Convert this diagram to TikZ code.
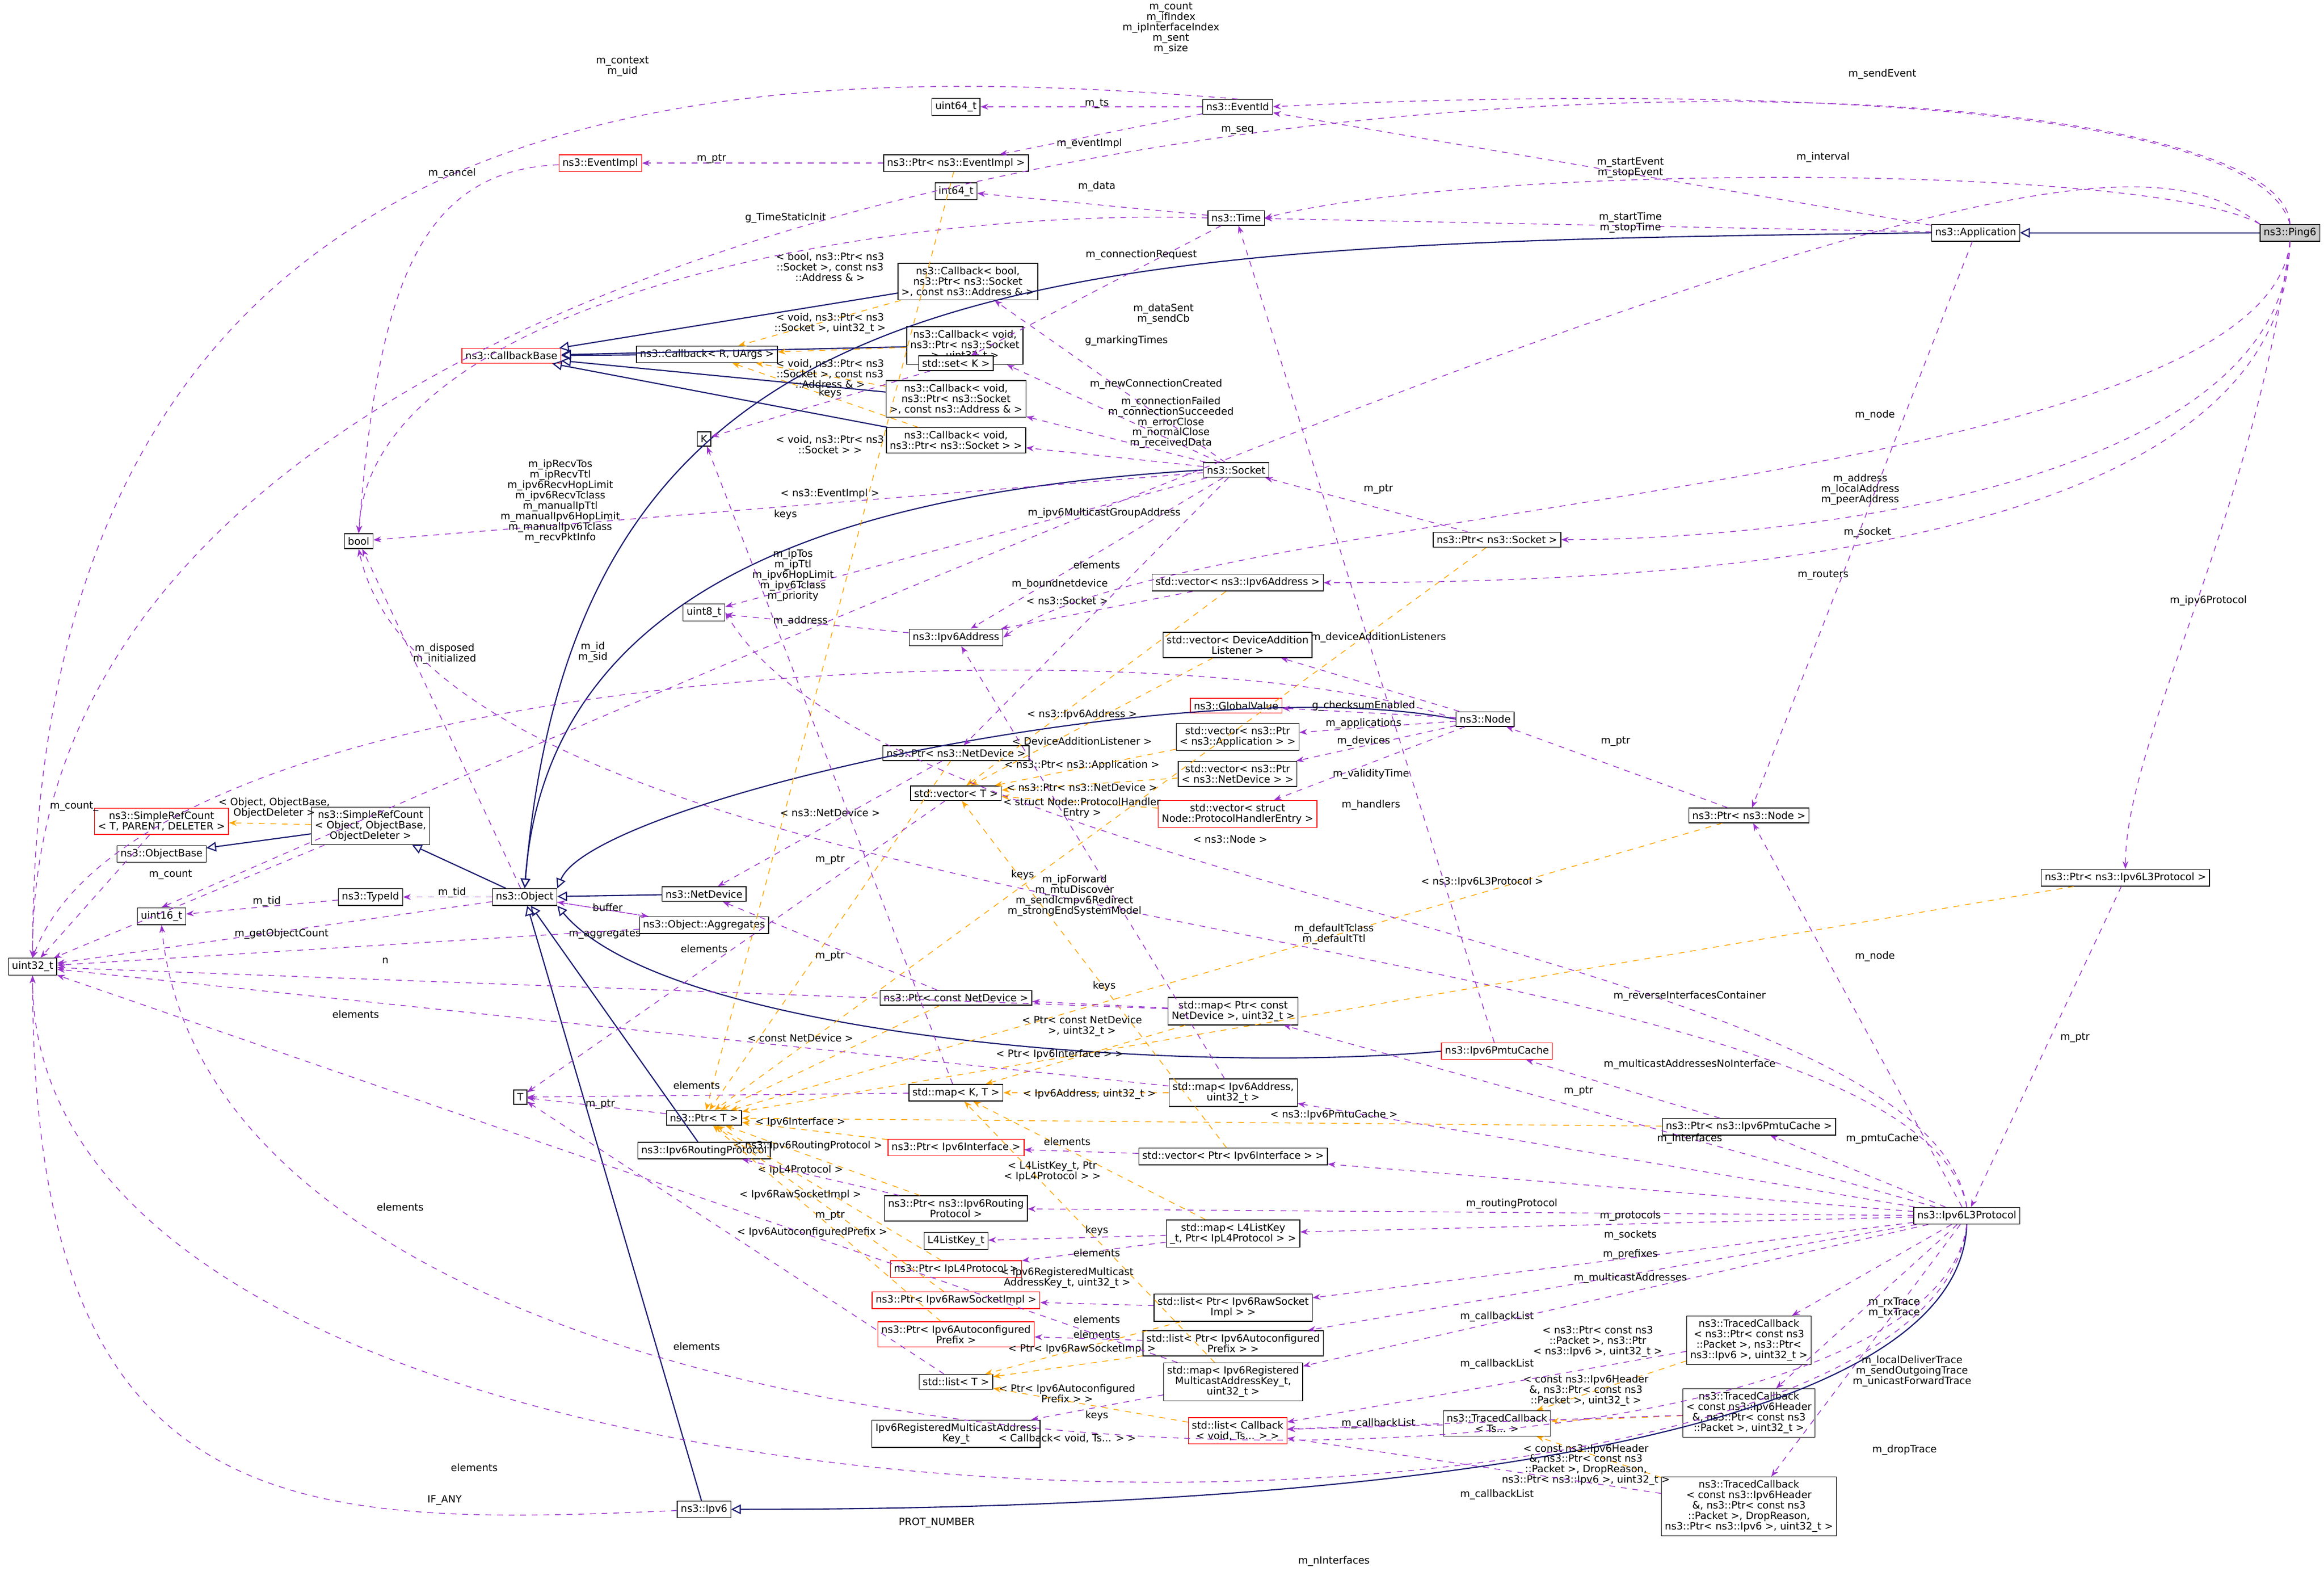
\documentclass[tikz,border=0pt]{standalone}
\usepackage{fontspec}
\setmainfont{DejaVu Sans}
\usetikzlibrary{arrows.meta}
\definecolor{inhblue}{RGB}{25,25,112}
\definecolor{usepurple}{RGB}{154,50,205}
\definecolor{tplorange}{RGB}{255,165,0}
\tikzset{
  cls/.style={draw, fill=white, font=\fontsize{5.2}{5.4}\selectfont, inner sep=1.8pt, align=center},
  redcls/.style={cls, draw=red},
  inh/.style={draw=inhblue, semithick, -{Triangle[open,length=5pt,width=5pt]}},
  use/.style={draw=usepurple, dashed, -{Stealth[length=4pt]}},
  tpl/.style={draw=tplorange, dashed, -{Stealth[length=4pt]}},
  lbl/.style={font=\fontsize{5.2}{5.4}\selectfont, align=center, inner sep=0.5pt}
}
\begin{document}
\begin{tikzpicture}[x=0.02692cm,y=-0.02692cm]
\useasboundingbox (0,0) rectangle (1568,1068);
% classes
\node (ping6) at (1545,157) [cls, fill=gray!40] {ns3::Ping6};
\node (app) at (1333,157) [cls] {ns3::Application};
\node (time) at (834,147) [cls] {ns3::Time};
\node (eventid) at (835,72) [cls] {ns3::EventId};
\node (u64) at (645,72) [cls] {uint64\_t};
\node (ptrevimpl) at (645,110) [cls] {ns3::Ptr< ns3::EventImpl >};
\node (evimpl) at (405,110) [redcls] {ns3::EventImpl};
\node (i64) at (645,129) [cls] {int64\_t};
\node (cbbool) at (653,190) [cls] {ns3::Callback< bool,\\ ns3::Ptr< ns3::Socket\\ >, const ns3::Address \& >};
\node (cbu32) at (651,233) [cls] {ns3::Callback< void,\\ ns3::Ptr< ns3::Socket\\ >, uint32\_t >};
\node (cbru) at (477,239) [cls] {ns3::Callback< R, UArgs >};
\node (cbbase) at (345,240) [redcls] {ns3::CallbackBase};
\node (setk) at (645,245) [cls] {std::set< K >};
\node (cbaddr) at (645,269) [cls] {ns3::Callback< void,\\ ns3::Ptr< ns3::Socket\\ >, const ns3::Address \& >};
\node (kk) at (475,296) [cls] {K};
\node (cbsock) at (645,297) [cls] {ns3::Callback< void,\\ ns3::Ptr< ns3::Socket > >};
\node (socket) at (834,317) [cls] {ns3::Socket};
\node (bool) at (242,365) [cls] {bool};
\node (ptrsock) at (1010,364) [cls] {ns3::Ptr< ns3::Socket >};
\node (vecaddr) at (835,393) [cls] {std::vector< ns3::Ipv6Address >};
\node (u8) at (475,413) [cls] {uint8\_t};
\node (ipv6addr) at (645,430) [cls] {ns3::Ipv6Address};
\node (vecdal) at (835,435) [cls] {std::vector< DeviceAddition\\Listener >};
\node (gval) at (834,476) [redcls] {ns3::GlobalValue};
\node (node) at (1002,485) [cls] {ns3::Node};
\node (vecapp) at (835,497) [cls] {std::vector< ns3::Ptr\\< ns3::Application > >};
\node (ptrnd) at (645,508) [cls] {ns3::Ptr< ns3::NetDevice >};
\node (vecnd) at (835,522) [cls] {std::vector< ns3::Ptr\\< ns3::NetDevice > >};
\node (vect) at (645,535) [cls] {std::vector< T >};
\node (vecphe) at (835,549) [redcls] {std::vector< struct\\Node::ProtocolHandlerEntry >};
\node (ptrnode) at (1180,550) [cls] {ns3::Ptr< ns3::Node >};
\node (srct) at (109,554) [redcls] {ns3::SimpleRefCount\\< T, PARENT, DELETER >};
\node (objbase) at (109,576) [cls] {ns3::ObjectBase};
\node (srcobj) at (250,557) [cls] {ns3::SimpleRefCount\\< Object, ObjectBase,\\ObjectDeleter >};
\node (typeid) at (250,605) [cls] {ns3::TypeId};
\node (object) at (354,605) [cls] {ns3::Object};
\node (netdev) at (475,603) [cls] {ns3::NetDevice};
\node (u16) at (109,618) [cls] {uint16\_t};
\node (aggr) at (475,624) [cls] {ns3::Object::Aggregates};
\node (u32) at (22,652) [cls] {uint32\_t};
\node (ptrl3) at (1434,592) [cls] {ns3::Ptr< ns3::Ipv6L3Protocol >};
\node (ptrcnd) at (645,673) [cls] {ns3::Ptr< const NetDevice >};
\node (mapnd) at (832,682) [cls] {std::map< Ptr< const\\NetDevice >, uint32\_t >};
\node (pmtu) at (1010,709) [redcls] {ns3::Ipv6PmtuCache};
\node (tt) at (351,740) [cls] {T};
\node (mapkt) at (645,737) [cls] {std::map< K, T >};
\node (mapaddr) at (832,737) [cls] {std::map< Ipv6Address,\\uint32\_t >};
\node (ptrt) at (475,754) [cls] {ns3::Ptr< T >};
\node (ptrif) at (645,774) [redcls] {ns3::Ptr< Ipv6Interface >};
\node (vecif) at (832,780) [cls] {std::vector< Ptr< Ipv6Interface > >};
\node (ptrpmtu) at (1180,760) [cls] {ns3::Ptr< ns3::Ipv6PmtuCache >};
\node (rp) at (475,776) [cls] {ns3::Ipv6RoutingProtocol};
\node (l3) at (1327,820) [cls] {ns3::Ipv6L3Protocol};
\node (ptrrp) at (645,815) [cls] {ns3::Ptr< ns3::Ipv6Routing\\Protocol >};
\node (l4key) at (645,837) [cls] {L4ListKey\_t};
\node (mapl4) at (832,832) [cls] {std::map< L4ListKey\\\_t, Ptr< IpL4Protocol > >};
\node (ptrl4) at (645,856) [redcls] {ns3::Ptr< IpL4Protocol >};
\node (ptrraw) at (645,877) [redcls] {ns3::Ptr< Ipv6RawSocketImpl >};
\node (listraw) at (832,882) [cls] {std::list< Ptr< Ipv6RawSocket\\Impl > >};
\node (ptrauto) at (645,900) [redcls] {ns3::Ptr< Ipv6Autoconfigured\\Prefix >};
\node (listauto) at (832,906) [cls] {std::list< Ptr< Ipv6Autoconfigured\\Prefix > >};
\node (tc1) at (1180,904) [cls] {ns3::TracedCallback\\< ns3::Ptr< const ns3\\::Packet >, ns3::Ptr<\\ns3::Ipv6 >, uint32\_t >};
\node (listt) at (645,932) [cls] {std::list< T >};
\node (mapmc) at (832,932) [cls] {std::map< Ipv6Registered\\MulticastAddressKey\_t,\\uint32\_t >};
\node (tc2) at (1180,953) [cls] {ns3::TracedCallback\\< const ns3::Ipv6Header\\\&, ns3::Ptr< const ns3\\::Packet >, uint32\_t >};
\node (tcts) at (1010,960) [cls] {ns3::TracedCallback\\< Ts... >};
\node (listcb) at (835,965) [redcls] {std::list< Callback\\< void, Ts... > >};
\node (mckey) at (645,967) [cls] {Ipv6RegisteredMulticastAddress\\Key\_t};
\node (tc3) at (1180,1016) [cls] {ns3::TracedCallback\\< const ns3::Ipv6Header\\\&, ns3::Ptr< const ns3\\::Packet >, DropReason,\\ ns3::Ptr< ns3::Ipv6 >, uint32\_t >};
\node (ipv6) at (475,1018) [cls] {ns3::Ipv6};
% inheritance
\draw[inh] (ping6) -- (app);
\draw[inh] (app.west) .. controls (700,165) and (390,170) .. (object.north);
\draw[inh] (cbbool) -- (cbbase);
\draw[inh] (cbu32) -- (cbbase);
\draw[inh] (cbru) -- (cbbase);
\draw[inh] (cbaddr) -- (cbbase);
\draw[inh] (cbsock) -- (cbbase);
\draw[inh] (socket.west) .. controls (600,330) and (370,380) .. (object.north);
\draw[inh] (node.west) .. controls (800,450) and (400,540) .. (object.north east);
\draw[inh] (netdev) -- (object);
\draw[inh] (pmtu.west) .. controls (800,725) and (450,700) .. (object.south east);
\draw[inh] (rp) -- (object);
\draw[inh] (ipv6) -- (object);
\draw[inh] (object) -- (srcobj);
\draw[inh] (srcobj) -- (objbase);
\draw[inh] (l3.south) .. controls (1320,1010) and (700,1018) .. (ipv6.east);
% template instances
\draw[tpl] (srcobj) -- (srct) node[lbl] at (185,545) {< Object, ObjectBase,\\ObjectDeleter >};
\draw[tpl] (cbbool) -- (cbru) node[lbl] at (560,180) {< bool, ns3::Ptr< ns3\\::Socket >, const ns3\\::Address \& >};
\draw[tpl] (cbu32) -- (cbru) node[lbl] at (560,218) {< void, ns3::Ptr< ns3\\::Socket >, uint32\_t >};
\draw[tpl] (cbaddr) -- (cbru) node[lbl] at (560,252) {< void, ns3::Ptr< ns3\\::Socket >, const ns3\\::Address \& >};
\draw[tpl] (cbsock) -- (cbru) node[lbl] at (560,300) {< void, ns3::Ptr< ns3\\::Socket > >};
\draw[tpl] (ptrevimpl) -- (ptrt) node[lbl] at (560,333) {< ns3::EventImpl >};
\draw[tpl] (vecaddr) -- (vect) node[lbl] at (730,482) {< ns3::Ipv6Address >};
\draw[tpl] (vecdal) -- (vect) node[lbl] at (730,500) {< DeviceAdditionListener >};
\draw[tpl] (vecapp) -- (vect) node[lbl] at (730,516) {< ns3::Ptr< ns3::Application >};
\draw[tpl] (vecnd) -- (vect) node[lbl] at (730,531) {< ns3::Ptr< ns3::NetDevice >};
\draw[tpl] (vecphe) -- (vect) node[lbl] at (730,545) {< struct Node::ProtocolHandler\\Entry >};
\draw[tpl] (ptrsock) -- (ptrt) node[lbl] at (720,405) {< ns3::Socket >};
\draw[tpl] (ptrnode) -- (ptrt) node[lbl] at (830,566) {< ns3::Node >};
\draw[tpl] (ptrl3) -- (ptrt) node[lbl] at (1000,595) {< ns3::Ipv6L3Protocol >};
\draw[tpl] (ptrnd) -- (ptrt) node[lbl] at (560,548) {< ns3::NetDevice >};
\draw[tpl] (ptrcnd) -- (ptrt) node[lbl] at (540,700) {< const NetDevice >};
\draw[tpl] (mapnd) -- (mapkt) node[lbl] at (730,692) {< Ptr< const NetDevice\\>, uint32\_t >};
\draw[tpl] (mapaddr) -- (mapkt) node[lbl] at (735,738) {< Ipv6Address, uint32\_t >};
\draw[tpl] (ptrpmtu) -- (ptrt) node[lbl] at (900,752) {< ns3::Ipv6PmtuCache >};
\draw[tpl] (vecif) -- (vect) node[lbl] at (715,711) {< Ptr< Ipv6Interface > >};
\draw[tpl] (ptrif) -- (ptrt) node[lbl] at (540,757) {< Ipv6Interface >};
\draw[tpl] (ptrrp) -- (ptrt) node[lbl] at (545,773) {< ns3::Ipv6RoutingProtocol >};
\draw[tpl] (mapl4) -- (mapkt) node[lbl] at (710,790) {< L4ListKey\_t, Ptr\\< IpL4Protocol > >};
\draw[tpl] (ptrl4) -- (ptrt) node[lbl] at (540,789) {< IpL4Protocol >};
\draw[tpl] (ptrraw) -- (ptrt) node[lbl] at (540,806) {< Ipv6RawSocketImpl >};
\draw[tpl] (ptrauto) -- (ptrt) node[lbl] at (548,831) {< Ipv6AutoconfiguredPrefix >};
\draw[tpl] (listraw) -- (listt) node[lbl] at (730,910) {< Ptr< Ipv6RawSocketImpl >};
\draw[tpl] (listauto) -- (listt) node[lbl] at (720,940) {< Ptr< Ipv6Autoconfigured\\Prefix > >};
\draw[tpl] (mapmc) -- (mapkt) node[lbl] at (720,862) {< Ipv6RegisteredMulticast\\AddressKey\_t, uint32\_t >};
\draw[tpl] (listcb) -- (listt) node[lbl] at (720,970) {< Callback< void, Ts... > >};
\draw[tpl] (tc1) -- (tcts) node[lbl] at (1078,905) {< ns3::Ptr< const ns3\\::Packet >, ns3::Ptr\\< ns3::Ipv6 >, uint32\_t >};
\draw[tpl] (tc2) -- (tcts) node[lbl] at (1070,938) {< const ns3::Ipv6Header\\\&, ns3::Ptr< const ns3\\::Packet >, uint32\_t >};
\draw[tpl] (tc3) -- (tcts) node[lbl] at (1070,988) {< const ns3::Ipv6Header\\\&, ns3::Ptr< const ns3\\::Packet >, DropReason,\\ ns3::Ptr< ns3::Ipv6 >, uint32\_t >};
% members
\draw[use] (ping6.north) .. controls (1540,0) and (20,0) .. (u32.north) node[lbl] at (790,19) {m\_count\\m\_ifIndex\\m\_ipInterfaceIndex\\m\_sent\\m\_size};
\draw[use] (ping6.north) .. controls (1520,60) and (1100,60) .. (eventid.east) node[lbl] at (1270,50) {m\_sendEvent};
\draw[use] (ping6.north west) .. controls (1450,95) and (1300,90) .. (u16.north) node[lbl] at (835,88) {m\_seq};
\draw[use] (ping6.north west) .. controls (1450,110) and (1000,110) .. (time.east) node[lbl] at (1230,106) {m\_interval};
\draw[use] (ping6.south) .. controls (1540,330) and (1200,364) .. (ptrsock.east) node[lbl] at (1260,359) {m\_socket};
\draw[use] (ping6.south) .. controls (1540,380) and (1100,393) .. (vecaddr.east) node[lbl] at (1230,388) {m\_routers};
\draw[use] (ping6.south) .. controls (1530,330) and (800,340) .. (ipv6addr.east) node[lbl] at (1255,330) {m\_address\\m\_localAddress\\m\_peerAddress};
\draw[use] (ping6.south) .. controls (1520,350) and (1434,500) .. (ptrl3.north) node[lbl] at (1490,405) {m\_ipv6Protocol};
\draw[use] (app) -- (eventid) node[lbl] at (1100,113) {m\_startEvent\\m\_stopEvent};
\draw[use] (app) -- (time) node[lbl] at (1100,150) {m\_startTime\\m\_stopTime};
\draw[use] (app) -- (ptrnode) node[lbl] at (1265,280) {m\_node};
\draw[use] (eventid) -- (u64) node[lbl] at (740,70) {m\_ts};
\draw[use] (eventid) -- (ptrevimpl) node[lbl] at (735,97) {m\_eventImpl};
\draw[use] (eventid.north) .. controls (500,40) and (22,40) .. (u32.north) node[lbl] at (420,45) {m\_context\\m\_uid};
\draw[use] (ptrevimpl) -- (evimpl) node[lbl] at (480,107) {m\_ptr};
\draw[use] (evimpl) .. controls (280,115) and (255,200) .. (bool.north) node[lbl] at (305,117) {m\_cancel};
\draw[use] (time) -- (i64) node[lbl] at (740,126) {m\_data};
\draw[use] (time.west) .. controls (600,140) and (250,200) .. (bool.north) node[lbl] at (530,147) {g\_TimeStaticInit};
\draw[use] (time) -- (setk) node[lbl] at (760,230) {g\_markingTimes};
\draw[use] (setk) -- (kk) node[lbl] at (560,265) {keys};
\draw[use] (socket) -- (cbbool) node[lbl] at (770,172) {m\_connectionRequest};
\draw[use] (socket) -- (cbu32) node[lbl] at (785,212) {m\_dataSent\\m\_sendCb};
\draw[use] (socket) -- (cbaddr) node[lbl] at (780,259) {m\_newConnectionCreated};
\draw[use] (socket) -- (cbsock) node[lbl] at (790,285) {m\_connectionFailed\\m\_connectionSucceeded\\m\_errorClose\\m\_normalClose\\m\_receivedData};
\draw[use] (socket) -- (bool) node[lbl] at (378,338) {m\_ipRecvTos\\m\_ipRecvTtl\\m\_ipv6RecvHopLimit\\m\_ipv6RecvTclass\\m\_manualIpTtl\\m\_manualIpv6HopLimit\\m\_manualIpv6Tclass\\m\_recvPktInfo};
\draw[use] (socket) -- (u8) node[lbl] at (535,388) {m\_ipTos\\m\_ipTtl\\m\_ipv6HopLimit\\m\_ipv6Tclass\\m\_priority};
\draw[use] (socket) -- (ipv6addr) node[lbl] at (745,346) {m\_ipv6MulticastGroupAddress};
\draw[use] (socket) -- (ptrnd) node[lbl] at (715,394) {m\_boundnetdevice};
\draw[use] (ptrsock) -- (socket) node[lbl] at (930,330) {m\_ptr};
\draw[use] (vecaddr) -- (ipv6addr) node[lbl] at (740,381) {elements};
\draw[use] (ipv6addr) -- (u8) node[lbl] at (540,419) {m\_address};
\draw[use] (node) -- (vecdal) node[lbl] at (930,430) {m\_deviceAdditionListeners};
\draw[use] (node) -- (gval) node[lbl] at (920,476) {g\_checksumEnabled};
\draw[use] (node) -- (vecapp) node[lbl] at (920,488) {m\_applications};
\draw[use] (node) -- (vecnd) node[lbl] at (920,500) {m\_devices};
\draw[use] (node) -- (vecphe) node[lbl] at (925,543) {m\_handlers};
\draw[use] (node.west) .. controls (800,420) and (100,440) .. (u32.north) node[lbl] at (400,440) {m\_id\\m\_sid};
\draw[use] (ptrnode) -- (node) node[lbl] at (1090,500) {m\_ptr};
\draw[use] (ptrnd) -- (netdev) node[lbl] at (560,580) {m\_ptr};
\draw[use] (object) -- (bool) node[lbl] at (300,441) {m\_disposed\\m\_initialized};
\draw[use] (object) -- (typeid) node[lbl] at (305,602) {m\_tid};
\draw[use] (object) -- (aggr) node[lbl] at (408,630) {m\_aggregates};
\draw[use] (object) -- (u32) node[lbl] at (190,630) {m\_getObjectCount};
\draw[use] (aggr) -- (object) node[lbl] at (410,612) {buffer};
\draw[use] (aggr) -- (u32) node[lbl] at (260,648) {n};
\draw[use] (typeid) -- (u16) node[lbl] at (180,608) {m\_tid};
\draw[use] (srct) -- (u32) node[lbl] at (50,544) {m\_count\_};
\draw[use] (srcobj) -- (u32) node[lbl] at (115,590) {m\_count};
\draw[use] (vect) -- (tt) node[lbl] at (475,640) {elements};
\draw[use] (mapkt) -- (tt) node[lbl] at (470,732) {elements};
\draw[use] (mapkt) -- (kk) node[lbl] at (530,347) {keys};
\draw[use] (listt) -- (tt) node[lbl] at (470,908) {elements};
\draw[use] (ptrt) -- (tt) node[lbl] at (405,745) {m\_ptr};
\draw[use] (ptrcnd) -- (netdev) node[lbl] at (560,645) {m\_ptr};
\draw[use] (mapnd) -- (ptrcnd) node[lbl] at (745,665) {keys};
\draw[use] (mapnd) -- (u32) node[lbl] at (240,684) {elements};
\draw[use] (mapaddr) -- (ipv6addr) node[lbl] at (690,590) {keys};
\draw[use] (mapaddr) -- (u32) node[lbl] at (270,814) {elements};
\draw[use] (pmtu) -- (time) node[lbl] at (925,522) {m\_validityTime};
\draw[use] (ptrpmtu) -- (pmtu) node[lbl] at (1065,736) {m\_ptr};
\draw[use] (vecif) -- (ptrif) node[lbl] at (720,770) {elements};
\draw[use] (ptrrp) -- (rp) node[lbl] at (560,820) {m\_ptr};
\draw[use] (mapl4) -- (l4key) node[lbl] at (740,830) {keys};
\draw[use] (mapl4) -- (ptrl4) node[lbl] at (740,845) {elements};
\draw[use] (listraw) -- (ptrraw) node[lbl] at (740,890) {elements};
\draw[use] (listauto) -- (ptrauto) node[lbl] at (740,900) {elements};
\draw[use] (mapmc) -- (mckey) node[lbl] at (740,955) {keys};
\draw[use] (mapmc) -- (u32) node[lbl] at (320,990) {elements};
\draw[use] (tcts) -- (listcb) node[lbl] at (930,960) {m\_callbackList};
\draw[use] (tc1) -- (listcb) node[lbl] at (1010,888) {m\_callbackList};
\draw[use] (tc2) -- (listcb) node[lbl] at (1010,920) {m\_callbackList};
\draw[use] (tc3) -- (listcb) node[lbl] at (1010,1008) {m\_callbackList};
\draw[use] (ptrl3) -- (l3) node[lbl] at (1400,700) {m\_ptr};
\draw[use] (l3) -- (ptrnode) node[lbl] at (1265,645) {m\_node};
\draw[use] (l3.north) .. controls (1300,640) and (600,600) .. (u8.east) node[lbl] at (900,630) {m\_defaultTclass\\m\_defaultTtl};
\draw[use] (l3.north) .. controls (1290,620) and (300,640) .. (bool.south) node[lbl] at (725,604) {m\_ipForward\\m\_mtuDiscover\\m\_sendIcmpv6Redirect\\m\_strongEndSystemModel};
\draw[use] (l3) -- (mapnd) node[lbl] at (1140,672) {m\_reverseInterfacesContainer};
\draw[use] (l3) -- (mapaddr) node[lbl] at (1140,718) {m\_multicastAddressesNoInterface};
\draw[use] (l3) -- (ptrpmtu) node[lbl] at (1270,768) {m\_pmtuCache};
\draw[use] (l3) -- (vecif) node[lbl] at (1140,768) {m\_interfaces};
\draw[use] (l3) -- (ptrrp) node[lbl] at (1020,812) {m\_routingProtocol};
\draw[use] (l3) -- (mapl4) node[lbl] at (1100,820) {m\_protocols};
\draw[use] (l3) -- (listraw) node[lbl] at (1100,833) {m\_sockets};
\draw[use] (l3) -- (listauto) node[lbl] at (1100,846) {m\_prefixes};
\draw[use] (l3) -- (mapmc) node[lbl] at (1100,862) {m\_multicastAddresses};
\draw[use] (l3) -- (tc1) node[lbl] at (1278,882) {m\_rxTrace\\m\_txTrace};
\draw[use] (l3) -- (tc2) node[lbl] at (1290,925) {m\_localDeliverTrace\\m\_sendOutgoingTrace\\m\_unicastForwardTrace};
\draw[use] (l3) -- (tc3) node[lbl] at (1285,978) {m\_dropTrace};
\draw[use] (l3.south) .. controls (1300,1080) and (22,1080) .. (u32.south) node[lbl] at (900,1053) {m\_nInterfaces};
\draw[use] (l3.south) .. controls (1300,1045) and (150,1045) .. (u16.south) node[lbl] at (632,1027) {PROT\_NUMBER};
\draw[use] (ipv6) .. controls (200,1030) and (22,1030) .. (u32.south) node[lbl] at (300,1012) {IF\_ANY};
\end{tikzpicture}
\end{document}
